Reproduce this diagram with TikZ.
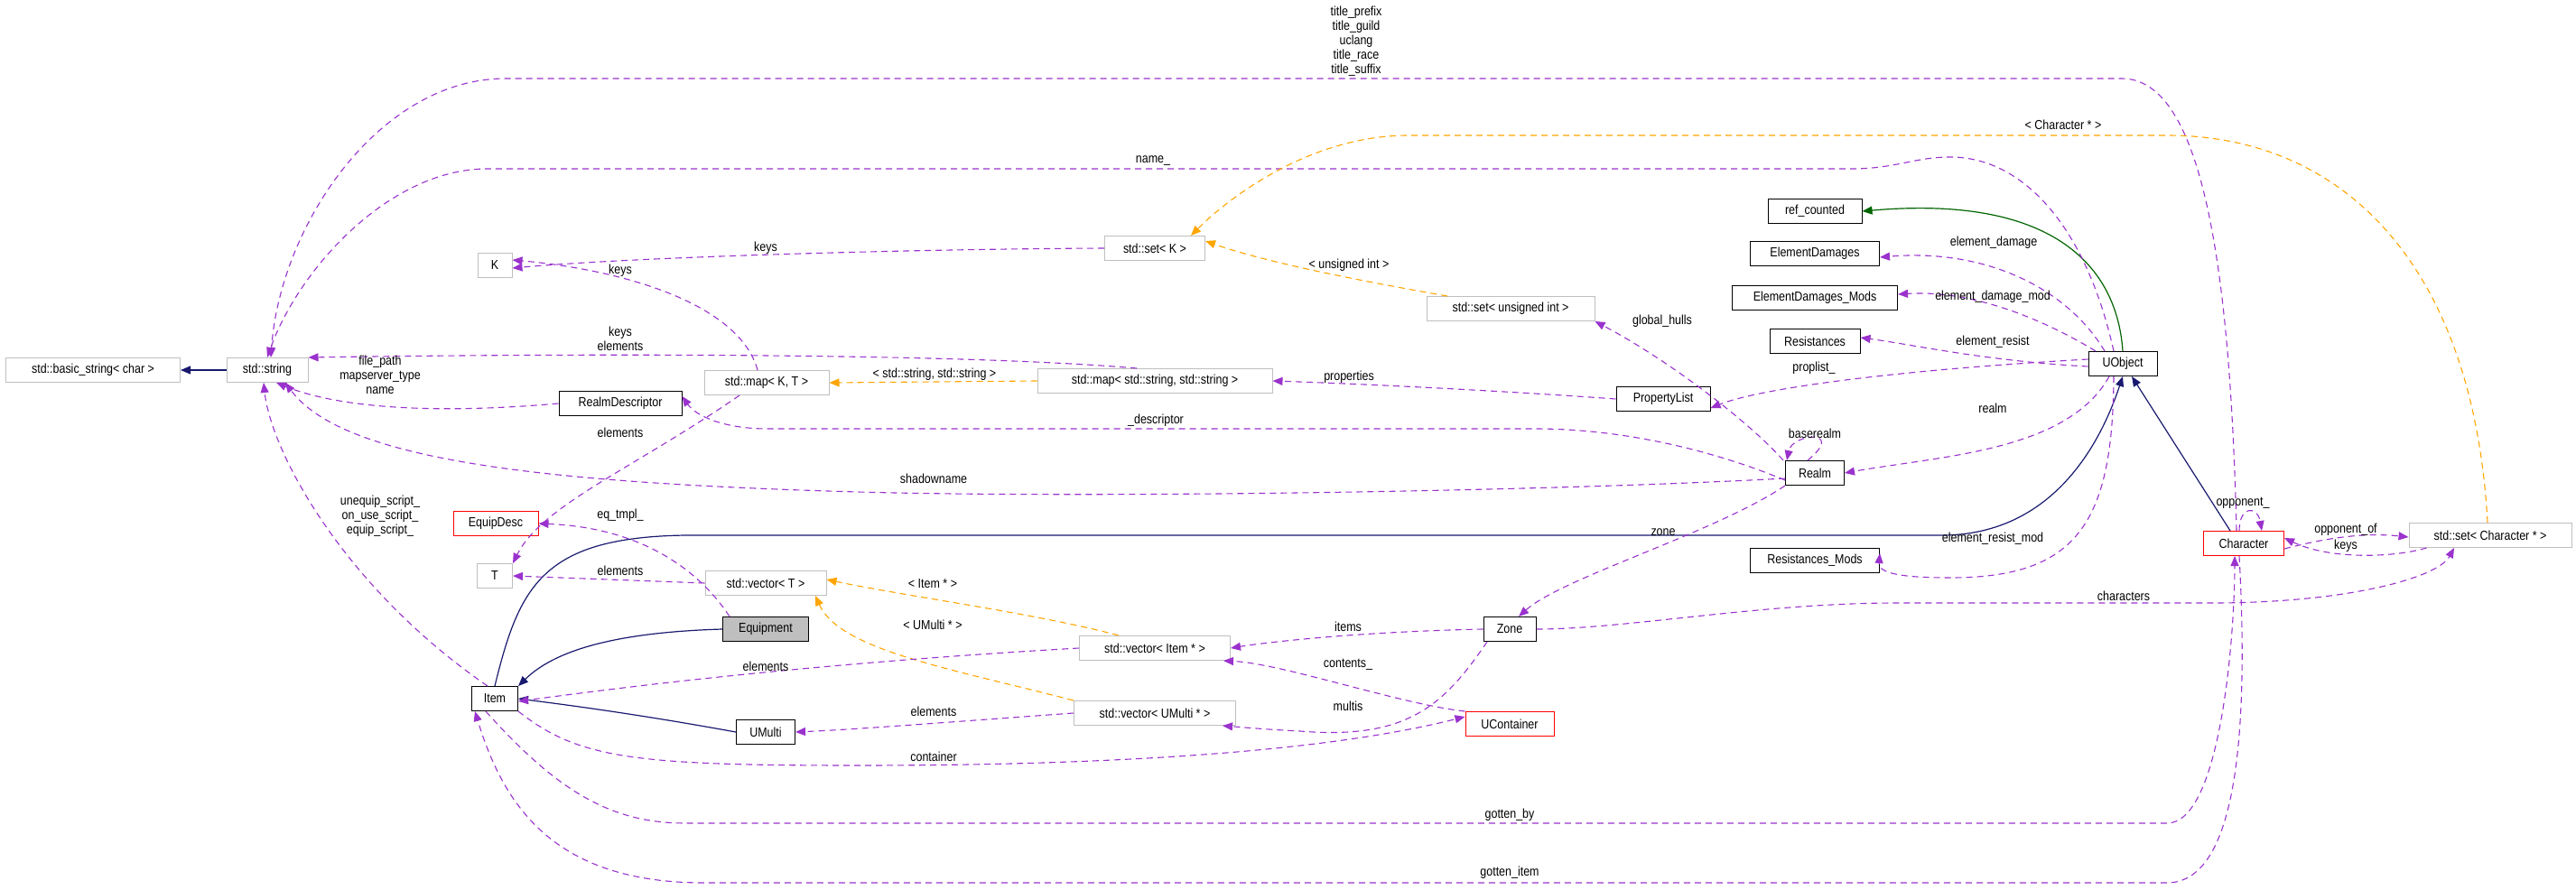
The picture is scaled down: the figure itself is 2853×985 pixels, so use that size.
\documentclass[tikz,border=0pt]{standalone}
\usepackage{fontspec}
\setmainfont[FakeStretch=0.86]{Liberation Sans}
\usetikzlibrary{arrows.meta}
\definecolor{dpurple}{HTML}{9A32CD}
\definecolor{dorange}{HTML}{FFA500}
\definecolor{navy}{HTML}{191970}
\definecolor{dgreen}{HTML}{006400}
\definecolor{boxgray}{HTML}{BFBFBF}
\begin{document}
\begin{tikzpicture}[x=1pt,y=-1pt,font=\fontsize{14.5}{16}\selectfont,
  box/.style={draw,line width=1pt,inner sep=0pt,minimum height=27pt,anchor=center},
  tmpl/.style={box,draw=boxgray},
  cls/.style={box,draw=black},
  rcls/.style={box,draw=red},
  mem/.style={draw=dpurple,line width=1.1pt,dash pattern=on 7pt off 5pt,-{Triangle[length=11pt,width=9pt]}},
  tpl/.style={mem,draw=dorange},
  inh/.style={draw=navy,line width=1.2pt,-{Triangle[length=11pt,width=9pt]}},
  grn/.style={inh,draw=dgreen},
  lbl/.style={inner sep=0pt,align=center,font=\fontsize{14.5}{16}\selectfont}]
\useasboundingbox (0,0) rectangle (2853,985);
% nodes
\node[tmpl,minimum width=193pt] (bstr) at (103,410) {std::basic\_string< char >};
\node[tmpl,minimum width=90pt] (str) at (296,410) {std::string};
\node[tmpl,minimum width=38pt] (K) at (548,294) {K};
\node[tmpl,minimum width=111pt] (setK) at (1279,275) {std::set< K >};
\node[tmpl,minimum width=186pt] (setui) at (1673,342) {std::set< unsigned int >};
\node[tmpl,minimum width=138pt] (mapKT) at (849,424) {std::map< K, T >};
\node[tmpl,minimum width=260pt] (mapss) at (1279,422) {std::map< std::string, std::string >};
\node[cls,minimum width=136pt] (rd) at (687,447) {RealmDescriptor};
\node[cls,minimum width=104pt] (pl) at (1842,442) {PropertyList};
\node[rcls,minimum width=94pt] (eqd) at (549,580) {EquipDesc};
\node[tmpl,minimum width=39pt] (T) at (548,638) {T};
\node[tmpl,minimum width=134pt] (vecT) at (848,646) {std::vector< T >};
\node[cls,minimum width=95pt,fill=boxgray] (equip) at (848,697) {Equipment};
\node[tmpl,minimum width=167pt] (vecI) at (1279,718) {std::vector< Item * >};
\node[cls,minimum width=58pt] (zone) at (1672,697) {Zone};
\node[cls,minimum width=51pt] (item) at (548,774) {Item};
\node[tmpl,minimum width=179pt] (vecU) at (1279,790) {std::vector< UMulti * >};
\node[cls,minimum width=65pt] (umulti) at (848,811) {UMulti};
\node[rcls,minimum width=98pt] (ucont) at (1672,802) {UContainer};
\node[cls,minimum width=104pt] (refc) at (2010,234) {ref\_counted};
\node[cls,minimum width=143pt] (ed) at (2010,281) {ElementDamages};
\node[cls,minimum width=183pt] (edm) at (2010,330) {ElementDamages\_Mods};
\node[cls,minimum width=100pt] (res) at (2010,378) {Resistances};
\node[cls,minimum width=76pt] (uobj) at (2351,403) {UObject};
\node[cls,minimum width=65pt] (realm) at (2010,524) {Realm};
\node[cls,minimum width=143pt] (resm) at (2010,621) {Resistances\_Mods};
\node[rcls,minimum width=89pt] (char) at (2485,602) {Character};
\node[tmpl,minimum width=180pt] (setC) at (2758,593) {std::set< Character * >};
% inheritance
\draw[inh] (str.west) -- (bstr.east);
\draw[inh] (item.north) .. controls (575,650) and (600,595) .. (760,593) -- (2150,593) .. controls (2280,593) and (2330,480) .. (uobj.south);
\draw[inh] (char.north west) ++(30,0) -- ([xshift=10pt]uobj.south);
\draw[inh] (equip.west) .. controls (700,700) and (620,715) .. (item.north east);
\draw[inh] (umulti.west) .. controls (700,790) and (620,780) .. (item.east);
\draw[grn] (uobj.north) .. controls (2345,300) and (2280,215) .. (refc.east);
% members
\draw[mem] ([xshift=-8pt]char.north) .. controls (2470,300) and (2440,87) .. (2350,87) -- (560,87) .. controls (420,87) and (310,250) .. ([xshift=4pt]str.north);
\draw[mem] ([xshift=-10pt]uobj.north) .. controls (2310,250) and (2240,174) .. (2160,174) .. controls (2120,174) and (2100,187) .. (2050,187) -- (540,187) .. controls (430,187) and (330,300) .. (str.north);
\draw[mem] (setK.west) .. controls (1000,276) and (700,285) .. ([yshift=-3pt]K.east);
\draw[mem] ([xshift=-10pt]mapKT.north) .. controls (820,340) and (700,300) .. ([yshift=6pt]K.east);
\draw[mem] ([xshift=-20pt]mapss.north) .. controls (1050,390) and (600,392) .. (str.north east);
\draw[mem] (rd.west) .. controls (470,460) and (370,450) .. ([xshift=10pt]str.south);
\draw[mem] ([yshift=-6pt]realm.west) .. controls (1700,545) and (1200,552) .. (950,545) .. controls (600,535) and (380,510) .. ([xshift=20pt]str.south);
\draw[mem] ([xshift=-8pt]item.north) .. controls (380,650) and (300,500) .. ([xshift=-4pt]str.south);
\draw[mem] ([xshift=-30pt]mapKT.south) .. controls (700,520) and (600,560) .. (T.north east);
\draw[mem] ([xshift=-40pt]equip.north) .. controls (780,640) and (720,585) .. (eqd.east);
\draw[mem] (vecT.west) -- (T.east);
\draw[tpl] ([xshift=-40pt]vecI.north) .. controls (1150,680) and (1000,660) .. ([yshift=4pt]vecT.east);
\draw[tpl] ([xshift=-90pt]vecU.north) .. controls (1050,740) and (930,720) .. ([xshift=55pt]vecT.south);
\draw[tpl] (mapss.west) -- (mapKT.east);
\draw[tpl] ([xshift=-70pt]setui.north) .. controls (1500,310) and (1400,290) .. ([yshift=8pt]setK.east);
\draw[tpl] ([xshift=-3pt]setC.north) .. controls (2740,300) and (2600,150) .. (2400,150) -- (1560,150) .. controls (1450,150) and (1360,220) .. ([xshift=40pt]setK.north);
\draw[mem] ([xshift=-20pt]uobj.north) .. controls (2290,320) and (2200,275) .. ([yshift=-4pt]ed.east);
\draw[mem] ([xshift=-30pt]uobj.north) .. controls (2290,370) and (2200,320) .. ([yshift=4pt]edm.east);
\draw[mem] ([yshift=-3pt]uobj.west) .. controls (2200,400) and (2120,382) .. ([yshift=4pt]res.east);
\draw[mem] ([yshift=5pt]uobj.west) .. controls (2100,410) and (1950,430) .. ([yshift=-10pt]pl.east);
\draw[mem] ([xshift=-15pt]uobj.south) .. controls (2290,500) and (2150,505) .. (realm.east);
\draw[mem] ([xshift=-10pt]uobj.south) .. controls (2340,580) and (2300,640) .. (2160,640) .. controls (2110,640) and (2080,636) .. ([yshift=8pt]resm.east);
\draw[mem] ([xshift=25pt]realm.north west) .. controls (2045,475) and (1985,480) .. ([xshift=2pt]realm.north west);
\draw[mem] ([xshift=-2pt]realm.north west) .. controls (1940,470) and (1850,400) .. (setui.south east);
\draw[mem] (pl.west) .. controls (1650,432) and (1500,425) .. (mapss.east);
\draw[mem] ([yshift=-8pt]realm.west) .. controls (1900,500) and (1800,475) .. (1700,475) -- (850,475) .. controls (800,475) and (770,460) .. ([yshift=8pt]rd.east);
\draw[mem] (realm.south west) .. controls (1900,590) and (1730,640) .. ([xshift=10pt]zone.north);
\draw[mem] (vecI.west) .. controls (900,735) and (700,760) .. ([yshift=-3pt]item.east);
\draw[mem] (zone.west) .. controls (1500,700) and (1400,712) .. (vecI.east);
\draw[mem] (ucont.north west) .. controls (1550,780) and (1420,735) .. ([xshift=-8pt]vecI.south east);
\draw[mem] ([xshift=-25pt]zone.south) .. controls (1600,780) and (1560,820) .. (1440,810) .. controls (1400,808) and (1380,806) .. ([xshift=-15pt]vecU.south east);
\draw[mem] (vecU.west) .. controls (1050,800) and (950,808) .. (umulti.east);
\draw[mem] (item.south east) .. controls (640,840) and (700,848) .. (950,848) .. controls (1300,848) and (1500,825) .. ([yshift=8pt]ucont.west);
\draw[mem] ([xshift=-10pt]item.south) .. controls (620,880) and (680,912) .. (760,912) -- (2400,912) .. controls (2460,912) and (2475,700) .. ([xshift=-10pt]char.south);
\draw[mem] ([xshift=-5pt]char.south) .. controls (2490,800) and (2480,978) .. (2400,978) -- (780,978) .. controls (620,978) and (560,900) .. ([xshift=-22pt]item.south);
\draw[mem] (zone.east) .. controls (1800,697) and (1950,668) .. (2100,668) -- (2450,668) .. controls (2600,668) and (2700,640) .. ([xshift=-40pt]setC.south);
\draw[mem] ([xshift=-5pt]char.north) .. controls (2480,560) and (2500,560) .. ([xshift=-25pt]char.north east);
\draw[mem] ([yshift=-6pt]char.east) .. controls (2580,595) and (2620,590) .. ([yshift=-2pt]setC.west);
\draw[mem] ([xshift=20pt]setC.south west) .. controls (2650,618) and (2580,620) .. ([yshift=6pt]char.east);
% labels
\node[lbl] (l1) at (1502,46) {title\_prefix\\title\_guild\\uclang\\title\_race\\title\_suffix};
\node[lbl] (l2) at (2285,138) {< Character * >};
\node[lbl] (l3) at (1277,178) {name\_};
\node[lbl] (l4) at (848,275) {keys};
\node[lbl] (l5) at (687,300) {keys};
\node[lbl] (l6) at (1494,294) {< unsigned int >};
\node[lbl] (l7) at (687,375) {keys\\elements};
\node[lbl] (l8) at (421,415) {file\_path\\mapserver\_type\\name};
\node[lbl] (l9) at (1035,415) {< std::string, std::string >};
\node[lbl] (l10) at (1841,356) {global\_hulls};
\node[lbl] (l11) at (1494,418) {properties};
\node[lbl] (l12) at (1280,466) {\_descriptor};
\node[lbl] (l13) at (687,479) {elements};
\node[lbl] (l14) at (1034,530) {shadowname};
\node[lbl] (l15) at (421,572) {unequip\_script\_\\on\_use\_script\_\\equip\_script\_};
\node[lbl] (l16) at (687,571) {eq\_tmpl\_};
\node[lbl] (l17) at (1842,590) {zone};
\node[lbl] (l18) at (687,632) {elements};
\node[lbl] (l19) at (1033,647) {< Item * >};
\node[lbl] (l20) at (1033,692) {< UMulti * >};
\node[lbl] (l21) at (1493,694) {items};
\node[lbl] (l22) at (848,738) {elements};
\node[lbl] (l23) at (1493,736) {contents\_};
\node[lbl] (l24) at (1034,788) {elements};
\node[lbl] (l25) at (1493,782) {multis};
\node[lbl] (l26) at (1034,838) {container};
\node[lbl] (l27) at (1672,903) {gotten\_by};
\node[lbl] (l28) at (1672,967) {gotten\_item};
\node[lbl] (l29) at (2208,269) {element\_damage};
\node[lbl] (l30) at (2207,329) {element\_damage\_mod};
\node[lbl] (l31) at (2207,379) {element\_resist};
\node[lbl] (l32) at (2009,408) {proplist\_};
\node[lbl] (l33) at (2207,452) {realm};
\node[lbl] (l34) at (2010,480) {baserealm};
\node[lbl] (l35) at (2207,597) {element\_resist\_mod};
\node[lbl] (l36) at (2484,557) {opponent\_};
\node[lbl] (l37) at (2598,587) {opponent\_of};
\node[lbl] (l38) at (2598,605) {keys};
\node[lbl] (l39) at (2352,660) {characters};
\end{tikzpicture}
\end{document}
